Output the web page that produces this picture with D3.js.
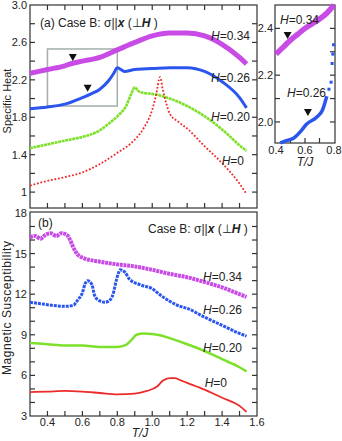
<!DOCTYPE html>
<html>
<head>
<meta charset="utf-8">
<script src="https://cdn.jsdelivr.net/npm/d3@7"></script>
<style>
  body { margin: 0; background: #fff; }
  text { font-family: 'Liberation Sans', Arial, sans-serif; }
</style>
</head>
<body>
<svg id="chart" width="342" height="441"></svg>
<script>
// ---- data ----
const series = ['H=0.34', 'H=0.26', 'H=0.20', 'H=0'];
const colors = ['#c94be6', '#2a55ee', '#7ee02a', '#ee2a2a'];

// (a) specific heat
const heatT034 = [0.3, 0.4, 0.5, 0.55, 0.6, 0.7, 0.8, 0.9, 1.0, 1.1, 1.2, 1.3, 1.4, 1.5, 1.54];
const heat034 = [2.27, 2.31, 2.35, 2.38, 2.40, 2.44, 2.52, 2.60, 2.67, 2.70, 2.70, 2.67, 2.58, 2.44, 2.37];
const heatT026 = [0.3, 0.4, 0.5, 0.6, 0.65, 0.7, 0.75, 0.78, 0.8, 0.82, 0.84, 0.9, 1.0, 1.1, 1.2, 1.3, 1.4, 1.5, 1.54];
const heat026 = [1.89, 1.91, 1.94, 2.01, 2.05, 2.10, 2.19, 2.27, 2.33, 2.31, 2.29, 2.31, 2.32, 2.33, 2.33, 2.29, 2.18, 2.01, 1.90];
const heatT020 = [0.3, 0.4, 0.5, 0.6, 0.7, 0.75, 0.8, 0.85, 0.88, 0.9, 0.92, 0.95, 1.0, 1.05, 1.1, 1.2, 1.3, 1.4, 1.5, 1.54];
const heat020 = [1.47, 1.51, 1.55, 1.59, 1.66, 1.73, 1.81, 1.92, 2.05, 2.12, 2.08, 2.06, 2.05, 2.03, 2.0, 1.92, 1.81, 1.67, 1.50, 1.44];
const heatT0 = [0.3, 0.4, 0.5, 0.6, 0.7, 0.8, 0.9, 0.95, 1.0, 1.02, 1.045, 1.06, 1.08, 1.1, 1.15, 1.2, 1.3, 1.4, 1.5, 1.54];
const heat0 = [1.07, 1.12, 1.16, 1.21, 1.30, 1.42, 1.56, 1.68, 1.88, 2.02, 2.23, 2.10, 1.95, 1.84, 1.75, 1.68, 1.49, 1.31, 1.09, 0.98];

// (b) magnetic susceptibility
const chiT034 = [0.3, 0.33, 0.36, 0.39, 0.42, 0.45, 0.48, 0.51, 0.53, 0.55, 0.575, 0.6, 0.7, 0.8, 0.9, 1.0, 1.1, 1.2, 1.3, 1.4, 1.5, 1.54];
const chi034 = [16.2, 16.3, 16.1, 16.4, 16.5, 16.3, 16.5, 16.4, 16.0, 15.4, 14.9, 14.7, 14.4, 14.2, 14.05, 13.8, 13.5, 13.25, 12.9, 12.5, 12.0, 11.8];
const chiT026 = [0.3, 0.36, 0.41, 0.51, 0.55, 0.575, 0.6, 0.615, 0.63, 0.655, 0.67, 0.7, 0.73, 0.76, 0.78, 0.79, 0.805, 0.815, 0.845, 0.87, 0.93, 1.0, 1.05, 1.16, 1.2, 1.3, 1.4, 1.5, 1.54];
const chi026 = [11.4, 11.3, 11.2, 11.1, 11.2, 11.6, 12.1, 12.75, 13.0, 12.7, 11.9, 11.5, 11.4, 11.6, 12.2, 12.8, 13.5, 13.8, 13.6, 13.1, 12.7, 12.4, 11.9, 11.1, 10.95, 10.3, 9.7, 9.1, 8.9];
const chiT020 = [0.3, 0.4, 0.5, 0.6, 0.7, 0.8, 0.85, 0.88, 0.91, 0.95, 1.0, 1.05, 1.1, 1.2, 1.3, 1.4, 1.5, 1.54];
const chi020 = [8.4, 8.3, 8.2, 8.2, 8.1, 8.1, 8.25, 8.6, 9.0, 9.1, 9.05, 8.95, 8.75, 8.3, 7.8, 7.2, 6.6, 6.3];
const chiT0 = [0.3, 0.4, 0.5, 0.6, 0.7, 0.8, 0.9, 0.97, 1.03, 1.06, 1.1, 1.13, 1.16, 1.2, 1.3, 1.4, 1.5, 1.54];
const chi0 = [4.77, 4.8, 4.85, 4.8, 4.7, 4.6, 4.65, 4.85, 5.2, 5.6, 5.8, 5.8, 5.65, 5.45, 4.95, 4.35, 3.75, 3.3];

// inset (zoom of the grey box)
const insetT034 = [0.4, 0.45, 0.5, 0.55, 0.6, 0.65, 0.7, 0.75, 0.8];
const inset034 = [2.29, 2.32, 2.35, 2.375, 2.40, 2.42, 2.44, 2.465, 2.5];
const insetT026 = [0.43, 0.47, 0.52, 0.57, 0.61, 0.68, 0.72, 0.75];
const inset026 = [1.91, 1.92, 1.93, 1.96, 1.99, 2.02, 2.05, 2.11];
const insetDotT026 = [0.765, 0.78, 0.787, 0.792, 0.797];
const insetDot026 = [2.14, 2.17, 2.25, 2.29, 2.33];

// grey box and the arrows (triangles)
const boxT = [0.4, 0.8];
const boxC = [1.92, 2.53];
const arrowsMain = [[0.545, 2.44], [0.63, 2.11]];
const arrowsInset = [[0.48, 2.37], [0.62, 2.04]];

// label values
const heatLabels = [1, 1.4, 1.8, 2.2, 2.6, 3.0];
const chiLabels = [3, 6, 9, 12, 15, 18];
const tLabels = [0.4, 0.6, 0.8, 1.0, 1.2, 1.4, 1.6];
const insetYLabels = [2.0, 2.2, 2.4];
const insetXLabels = [0.4, 0.6, 0.8];

// ---- drawing ----
const svg = d3.select('#chart');
const x = d3.scaleLinear().domain([0.3, 1.6]).range([30, 257]);
const yA = d3.scaleLinear().domain([0.83, 3.0]).range([208, 5]);
const yB = d3.scaleLinear().domain([3, 18.07]).range([416, 212]);
const xi = d3.scaleLinear().domain([0.4, 0.8]).range([276, 334]);
const yi = d3.scaleLinear().domain([1.91, 2.5]).range([143, 5]);
const TL = 5;

function frame(x0, x1, y0, y1) {
  svg.append('rect')
    .attr('x', x0).attr('y', y0)
    .attr('width', x1 - x0).attr('height', y1 - y0)
    .attr('fill', 'none').attr('stroke', '#333').attr('stroke-width', 1.2);
}

function ticksX(xs, vals, y, dir) {
  vals.forEach(v => {
    svg.append('line')
      .attr('x1', xs(v)).attr('x2', xs(v))
      .attr('y1', y).attr('y2', y + dir * TL)
      .attr('stroke', '#333').attr('stroke-width', 1.2);
  });
}

function ticksY(ys, vals, xp, dir) {
  vals.forEach(v => {
    svg.append('line')
      .attr('y1', ys(v)).attr('y2', ys(v))
      .attr('x1', xp).attr('x2', xp + dir * TL)
      .attr('stroke', '#333').attr('stroke-width', 1.2);
  });
}

function drawLine(xs, ys, tv, vv, color, width, dash) {
  const data = tv.map((t, i) => [t, vv[i]]);
  const line = d3.line()
    .x(d => xs(d[0]))
    .y(d => ys(d[1]))
    .curve(d3.curveMonotoneX);
  const p = svg.append('path')
    .datum(data)
    .attr('d', line)
    .attr('fill', 'none')
    .attr('stroke', color)
    .attr('stroke-width', width)
    .attr('stroke-linejoin', 'round');
  if (dash) p.attr('stroke-dasharray', dash);
}

function label(xp, yp, txt, anchor, size) {
  return svg.append('text')
    .attr('x', xp).attr('y', yp)
    .attr('text-anchor', anchor || 'start')
    .attr('font-size', size || 11)
    .attr('fill', '#222')
    .text(txt);
}

function hLabel(xp, yp, val) {
  const t = svg.append('text')
    .attr('x', xp).attr('y', yp)
    .attr('text-anchor', 'end')
    .attr('font-size', 12)
    .attr('fill', '#222');
  t.append('tspan').attr('font-style', 'italic').text('H');
  t.append('tspan').text('=' + val);
}

function triangle(xs, ys, p) {
  const cx = xs(p[0]), cy = ys(p[1]);
  svg.append('path')
    .attr('d', `M${cx - 4},${cy - 3.5} L${cx + 4},${cy - 3.5} L${cx},${cy + 3.5} Z`)
    .attr('fill', '#111');
}

const minorT = d3.range(0.4, 1.55, 0.1);

// panel (a)
frame(30, 257, 5, 208);
ticksY(yA, d3.range(1.0, 2.95, 0.2), 30, 1);
ticksY(yA, d3.range(1.0, 2.95, 0.2), 257, -1);
ticksX(x, minorT, 5, 1);
ticksX(x, minorT, 208, -1);
heatLabels.forEach(v => {
  label(27, yA(v) + 4, v === 1 ? '1' : d3.format('.1f')(v), 'end', 11);
});

svg.append('rect')
  .attr('x', x(boxT[0])).attr('y', yA(boxC[1]))
  .attr('width', x(boxT[1]) - x(boxT[0]))
  .attr('height', yA(boxC[0]) - yA(boxC[1]))
  .attr('fill', 'none').attr('stroke', '#a4aeac').attr('stroke-width', 1.5);

drawLine(x, yA, heatT034, heat034, colors[0], 5);
drawLine(x, yA, heatT026, heat026, colors[1], 3);
drawLine(x, yA, heatT020, heat020, colors[2], 2.6, '3,0.6');
drawLine(x, yA, heatT0, heat0, colors[3], 1.8, '1.8,1.8');
arrowsMain.forEach(p => triangle(x, yA, p));

const ta = svg.append('text').attr('x', 40).attr('y', 27).attr('font-size', 12).attr('fill', '#222');
ta.append('tspan').text('(a)  Case B: σ||');
ta.append('tspan').attr('font-weight', 'bold').attr('font-style', 'italic').text('x');
ta.append('tspan').text(' (⊥');
ta.append('tspan').attr('font-weight', 'bold').attr('font-style', 'italic').text('H');
ta.append('tspan').text(' )');

hLabel(250, 40, '0.34');
hLabel(250, 82, '0.26');
hLabel(250, 121, '0.20');
hLabel(244, 165, '0');

svg.append('text')
  .attr('transform', 'translate(11,101) rotate(-90)')
  .attr('text-anchor', 'middle')
  .attr('font-size', 11)
  .attr('fill', '#222')
  .text('Specific Heat');

// panel (b)
frame(30, 257, 212, 416);
ticksY(yB, d3.range(4, 18, 1), 30, 1);
ticksY(yB, d3.range(4, 18, 1), 257, -1);
ticksX(x, minorT, 416, -1);
chiLabels.forEach(v => label(27, yB(v) + 4, String(v), 'end', 11));
tLabels.forEach(v => label(x(v), 426, d3.format('.1f')(v), 'middle', 11));

drawLine(x, yB, chiT034, chi034, colors[0], 4, '3,0.7');
drawLine(x, yB, chiT026, chi026, colors[1], 3, '3,1');
drawLine(x, yB, chiT020, chi020, colors[2], 2.5);
drawLine(x, yB, chiT0, chi0, colors[3], 1.8);

label(38, 227, '(b)', 'start', 12);
const tb = svg.append('text').attr('x', 148).attr('y', 233).attr('font-size', 12).attr('fill', '#222');
tb.append('tspan').text('Case B: σ||');
tb.append('tspan').attr('font-weight', 'bold').attr('font-style', 'italic').text('x');
tb.append('tspan').text(' (⊥');
tb.append('tspan').attr('font-weight', 'bold').attr('font-style', 'italic').text('H');
tb.append('tspan').text(' )');

hLabel(242, 281, '0.34');
hLabel(242, 314, '0.26');
hLabel(242, 352, '0.20');
hLabel(227, 387, '0');

svg.append('text')
  .attr('transform', 'translate(11,308) rotate(-90)')
  .attr('text-anchor', 'middle')
  .attr('font-size', 12)
  .attr('textLength', 134)
  .attr('lengthAdjust', 'spacing')
  .attr('fill', '#222')
  .text('Magnetic Susceptibility');

label(140, 437, 'T/J', 'middle', 12).attr('font-style', 'italic');

// inset
frame(275, 335, 5, 143);
ticksY(yi, [2.0, 2.1, 2.2, 2.3, 2.4], 275, 1);
ticksY(yi, [2.0, 2.1, 2.2, 2.3, 2.4], 335, -1);
ticksX(xi, [0.5, 0.6, 0.7], 143, -1);
insetYLabels.forEach(v => label(273, yi(v) + 4, d3.format('.1f')(v), 'end', 11));
insetXLabels.forEach(v => label(xi(v), 154, d3.format('.1f')(v), 'middle', 11));
label(305, 166, 'T/J', 'middle', 12).attr('font-style', 'italic');

drawLine(xi, yi, insetT034, inset034, colors[0], 5.5);
drawLine(xi, yi, insetT026, inset026, colors[1], 3.5);
svg.selectAll('.idot')
  .data(insetDotT026.map((t, i) => [t, insetDot026[i]]))
  .enter().append('rect')
  .attr('x', d => xi(d[0]) - 1.5).attr('y', d => yi(d[1]) - 1.5)
  .attr('width', 3).attr('height', 3)
  .attr('fill', colors[1]);
arrowsInset.forEach(p => triangle(xi, yi, p));
hLabel(319, 24, '0.34');
hLabel(326, 97, '0.26');
</script>
</body>
</html>
